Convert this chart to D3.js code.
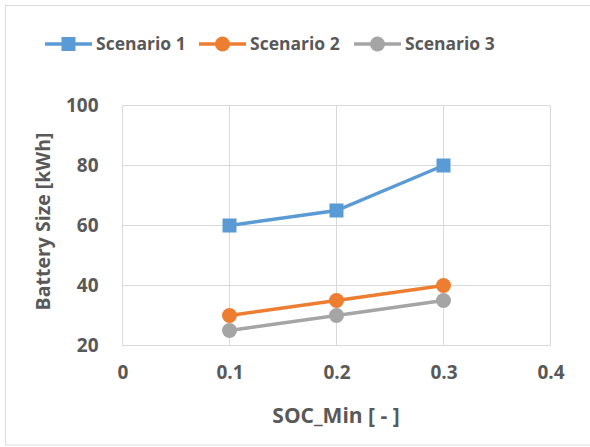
<!DOCTYPE html>
<html><head><meta charset="utf-8">
<script src="https://cdn.jsdelivr.net/npm/d3@7"></script>
<style>body{margin:0;background:#fff}svg{display:block}text{font-family:"Open Sans",sans-serif;font-weight:bold;fill:#595959}</style>
</head><body><svg id="c" width="590" height="447"></svg>
<script>
const xValues=[0.1,0.2,0.3];
const scenario1=[60,65,80];
const scenario2=[30,35,40];
const scenario3=[25,30,35];
const seriesNames=["Scenario 1","Scenario 2","Scenario 3"];
const colors=["#5b9bd5","#ed7d31","#a5a5a5"];
const shapes=["square","circle","circle"];
const xTicks=[0,0.1,0.2,0.3,0.4];
const yTicks=[20,40,60,80,100];
const FONT="'Open Sans',sans-serif";

const svg=d3.select("#c");
svg.append("rect").attr("x",5.5).attr("y",5.5).attr("width",590).attr("height",439.5).attr("fill","#fff").attr("stroke","#d9d9d9");
const x=d3.scaleLinear().domain([0,0.4]).range([122.5,550.5]);
const y=d3.scaleLinear().domain([20,100]).range([345.5,105.5]);
const g=svg.append("g");
g.selectAll(".hg").data(yTicks).join("line").attr("x1",x(0)).attr("x2",x(0.4)).attr("y1",d=>y(d)).attr("y2",d=>y(d)).attr("stroke","#d9d9d9").attr("stroke-width",1);
g.selectAll(".vg").data(xTicks).join("line").attr("y1",y(20)).attr("y2",y(100)).attr("x1",d=>x(d)).attr("x2",d=>x(d)).attr("stroke","#d9d9d9").attr("stroke-width",1);
const xa=svg.append("g").attr("transform",`translate(0,${y(20)})`).call(d3.axisBottom(x).tickValues(xTicks).tickSize(0).tickPadding(20).tickFormat(d=>d===0?"0":d3.format(".1f")(d)));
const ya=svg.append("g").attr("transform",`translate(${x(0)},0)`).call(d3.axisLeft(y).tickValues(yTicks).tickSize(0).tickPadding(24));
[xa,ya].forEach(a=>{a.select(".domain").remove();a.selectAll("text").style("font-size","19px").style("font-family",FONT).style("font-weight","bold").attr("fill","#595959");});
svg.append("text").attr("x",336).attr("y",416).attr("dy","0.35em").attr("text-anchor","middle").style("font-size","21px").text("SOC_Min [ - ]");
svg.append("text").attr("transform",`translate(43,221.5) rotate(-90)`).attr("dy","0.35em").attr("text-anchor","middle").style("font-size","19.5px").text("Battery Size [kWh]");
const data=[scenario1,scenario2,scenario3];
const line=d3.line().x((d,i)=>x(xValues[i])).y(d=>y(d));
data.forEach((vals,k)=>{
  g.append("path").datum(vals).attr("d",line).attr("fill","none").attr("stroke",colors[k]).attr("stroke-width",3.5);
});
data.forEach((vals,k)=>{
  if(shapes[k]==="square"){
    g.selectAll(null).data(vals).join("rect").attr("x",(d,i)=>x(xValues[i])-7).attr("y",d=>y(d)-7).attr("width",14).attr("height",14).attr("fill",colors[k]);
  } else {
    g.selectAll(null).data(vals).join("circle").attr("cx",(d,i)=>x(xValues[i])).attr("cy",d=>y(d)).attr("r",7.5).attr("fill",colors[k]);
  }
});
const legX=[45,199,354];
const ly=44;
seriesNames.forEach((n,k)=>{
  const lg=svg.append("g");
  lg.append("line").attr("x1",legX[k]).attr("x2",legX[k]+47).attr("y1",ly).attr("y2",ly).attr("stroke",colors[k]).attr("stroke-width",3.5);
  const cx=legX[k]+23.5;
  if(shapes[k]==="square") lg.append("rect").attr("x",cx-7).attr("y",ly-7).attr("width",14).attr("height",14).attr("fill",colors[k]);
  else lg.append("circle").attr("cx",cx).attr("cy",ly).attr("r",7.5).attr("fill",colors[k]);
  lg.append("text").attr("x",legX[k]+51).attr("y",ly).attr("dy","0.35em").style("font-size","17.5px").text(n);
});
</script></body></html>
